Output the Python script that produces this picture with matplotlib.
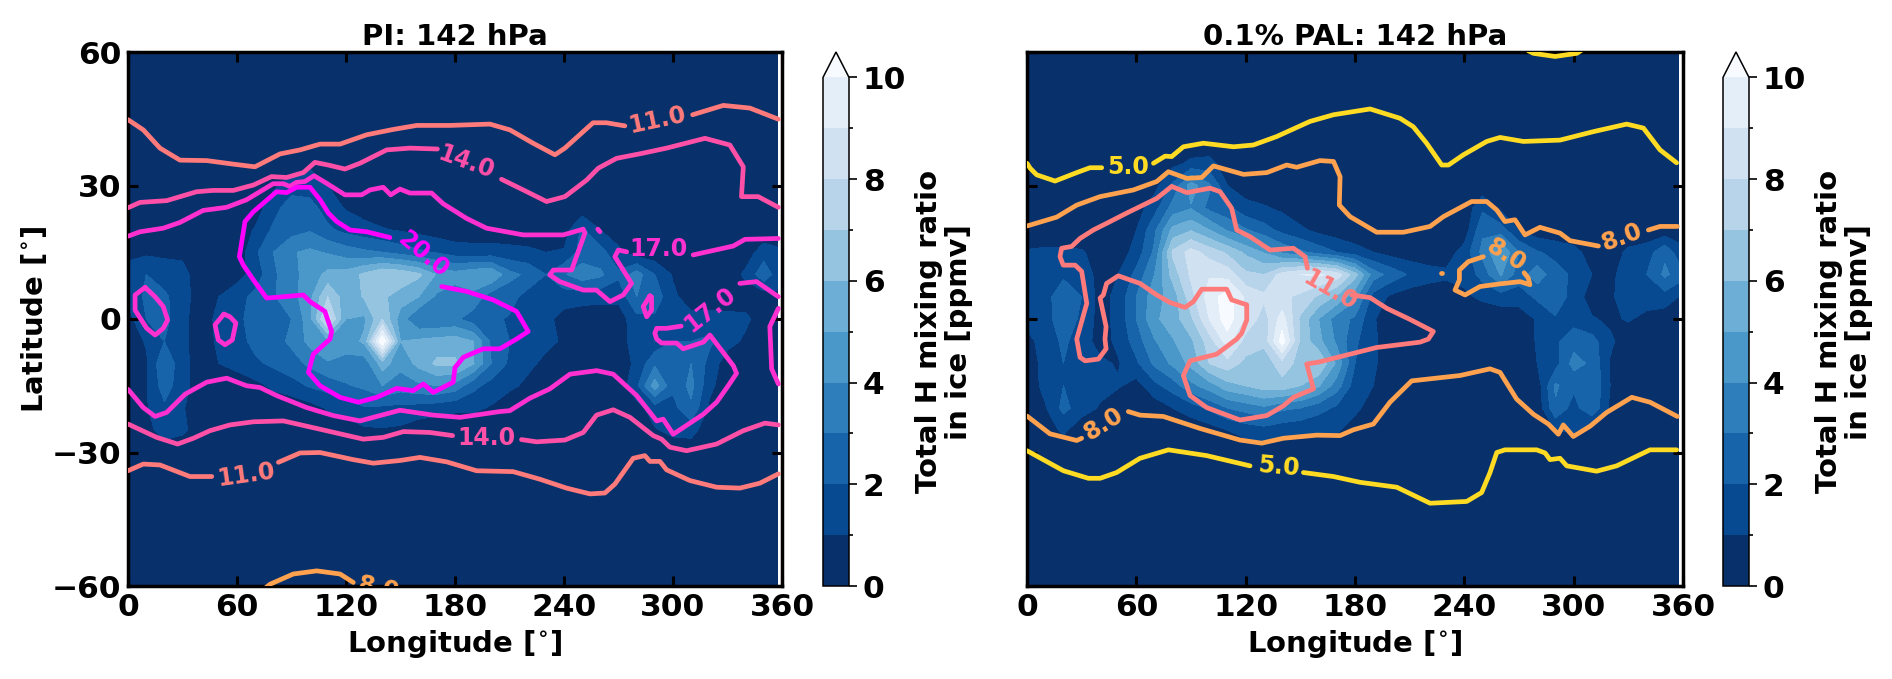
import numpy as np
import matplotlib
matplotlib.use("Agg")
import matplotlib.pyplot as plt

W, H = 1892, 679
# ---------------- data ----------------
lons = list(range(0, 360, 10)) + [357.5]
lats = [-60, -30, -25, -20, -15, -10, -5, 0, 5, 10, 15, 20, 25, 30, 35, 40, 60]
levels = list(range(0, 11))
calm = [.3] * 37

pi_ice = [
 calm,
 calm,
 [.3,.6,1.5,1.2,.5,.3,.3,.3,.3,.3, .3,.3,.4,.8,.9,.8,.4,.3,.3,.3, .3,.3,.3,.3,.3,.3,.3,.3,.3,.9, 1.3,1.4,.3,.3,.3,.3,.3],
 [.3,.9,1.8,1.1,.3,.3,.3,.3,.3,.3, .6,1.1,1.5,1.9,1.8,1.7,1.6,1.4,1.2,1.2, .9,.4,.3,.3,.3,.3,.3,.3,.6,1.5, 1.7,2.8,.8,.3,.3,.3,.3],
 [.3,.9,2.5,1.4,.4,.3,.3,.7,1.2,1.6, 2.1,2.4,2.9,3.2,4.0,3.5,3.8,4.0,3.6,2.3, 1.6,1.2,.8,.4,.3,.3,.3,.3,1.8,4.5, 2.2,3.3,1.3,.3,.3,.3,.3],
 [.3,.8,2.9,1.3,.5,1.0,1.4,1.8,2.2,2.6, 3.2,3.9,3.7,3.4,5.5,4.3,5.3,6.2,6.2,5.1, 3.0,1.8,1.2,.8,.4,.4,.4,.5,1.2,2.8, 2.5,3.0,1.7,.4,.3,.3,.3],
 [.4,1.1,2.0,1.3,.4,1.2,1.6,2.3,2.6,3.2, 4.3,4.8,4.4,5.2,11,5.0,5.2,5.4,5.5,5.0, 2.8,2.0,1.4,1.2,.9,.4,.4,.4,1.6,1.3, 2.0,2.0,2.2,1.4,.8,.3,.3],
 [.6,2.0,2.3,1.3,.4,1.3,1.7,2.5,2.4,3.0, 4.6,8.5,5.0,4.8,7.0,4.5,3.0,3.0,3.2,2.5, 2.2,1.9,1.3,1.3,.6,.4,.4,.4,1.7,1.8, 1.5,1.3,1.4,1.3,1.2,.5,.4],
 [1.2,2.2,2.2,1.4,.5,1.0,1.6,2.3,2.9,3.6, 4.7,7.0,5.4,6.1,6.2,5.5,5.0,3.8,3.5,3.7, 2.4,2.4,1.6,1.1,1.5,1.4,1.3,1.3,3.0,2.6, 1.2,.5,.4,.4,.5,.4,.8],
 [1.3,2.0,1.5,1.3,.5,.4,.6,1.4,2.8,3.7, 4.4,5.3,5.4,6.2,7.0,6.8,6.2,4.9,4.4,4.8, 5.0,3.3,2.8,2.0,2.9,3.6,3.2,2.2,3.5,2.0, .9,.4,.4,.4,1.2,2.7,1.5],
 [.8,.8,.8,.8,.4,.3,.3,1.8,3.0,3.9, 4.2,3.9,3.5,3.2,3.0,2.6,2.2,1.9,1.5,1.4, 1.4,1.3,1.2,1.0,1.1,2.4,2.4,1.2,.4,.3, .3,.3,.3,.3,.5,1.5,1.2],
 [.3,.3,.3,.3,.3,.3,.4,1.1,2.2,2.6, 2.9,2.2,1.7,1.4,1.1,.9,.7,.5,.4,.4, .4,.4,.4,.4,.5,2.2,1.0,.5,.3,.3, .3,.3,.3,.3,.3,.3,.3],
 [.3,.3,.3,.3,.3,.3,.3,.5,1.6,2.6, 2.4,1.5,.9,.5,.3,.3,.3,.3,.3,.3, .3,.3,.3,.3,.3,.3,.3,.3,.3,.3, .3,.3,.3,.3,.3,.3,.3],
 [.3,.3,.3,.3,.3,.3,.3,.3,.8,1.5, 1.5,1.0,.5,.3,.3,.3,.3,.3,.3,.3, .3,.3,.3,.3,.3,.3,.3,.3,.3,.3, .3,.3,.3,.3,.3,.3,.3],
 [.3,.3,.3,.3,.3,.3,.3,.3,.3,.5, .8,.4,.3,.3,.3,.3,.3,.3,.3,.3, .3,.3,.3,.3,.3,.3,.3,.3,.3,.3, .3,.3,.3,.3,.3,.3,.3],
 calm,
 calm,
]

pal_ice = [
 calm,
 calm,
 [.3,.5,1.2,.3,.3,.3,.3,.3,.3,.3, .5,1.0,1.4,1.6,1.4,1.2,1.1,1.1,.6,.3, .3,.3,.3,.3,.3,.3,.3,.3,.3,1.0, 1.1,.5,.3,.3,.3,.3,.3],
 [.3,.9,2.3,1.5,.9,.3,.3,.4,1.0,1.5, 2.2,3.0,3.4,3.8,3.2,3.0,2.4,1.8,1.2,.6, .3,.3,.3,.3,.3,.3,.3,.3,.3,2.8, 1.6,2.8,.8,.3,.3,.3,.3],
 [.4,1.3,2.0,1.6,1.3,1.1,.6,1.7,2.5,3.7, 4.5,5.6,6.0,6.5,6.6,6.0,5.1,3.5,1.5,1.0, .4,.3,.3,.3,.3,.3,.3,.3,.4,3.2, 2.2,3.0,1.0,.3,.3,.3,.3],
 [.5,1.3,2.0,1.6,1.2,.9,1.8,3.2,4.2,5.3, 7.0,7.6,6.7,6.3,7.6,6.6,7.0,4.8,2.0,1.2, .3,.3,.3,.3,.3,.3,.3,.3,1.0,1.6, 3.4,2.8,.9,.3,.3,.3,.3],
 [.7,1.4,2.2,1.5,.6,1.2,2.5,3.9,4.9,5.8, 7.5,9.5,7.6,7.3,10.5,6.8,5.3,3.8,2.2,1.2, .4,.3,.3,.3,.3,.3,.3,.3,1.1,1.8, 2.6,2.4,1.2,.4,.3,.3,.3],
 [1.3,1.6,2.6,1.8,.6,1.3,3.0,4.8,5.5,6.8, 9.0,10.6,8.8,7.5,9.5,6.8,5.0,3.5,2.8,1.1, .4,.3,.3,.3,.3,.3,.3,.4,1.1,1.9, 1.6,1.1,.8,1.1,.7,.4,.3],
 [1.5,1.6,2.7,2.0,.6,1.3,3.0,4.6,5.4,7.6, 9.5,10.5,8.8,8.2,8.2,7.8,6.8,5.8,4.3,1.6, .8,.4,.4,.4,.8,1.2,1.5,1.5,2.2,2.6, 1.6,.5,.9,1.3,1.5,1.6,1.0],
 [1.6,1.5,1.8,1.8,.5,1.0,2.3,4.0,6.4,8.2, 8.9,8.6,7.2,7.0,8.4,9.0,9.2,8.6,6.4,3.5, 2.6,1.9,1.4,1.2,1.3,2.4,4.1,2.5,3.6,2.4, 1.8,1.0,.8,1.4,2.0,3.2,2.6],
 [1.1,1.2,1.2,1.1,.6,.4,1.4,3.2,7.2,8.4, 7.6,6.8,5.8,4.9,3.8,3.2,2.6,2.0,1.4,1.0, .6,.4,.4,.5,1.4,3.3,5.0,3.0,2.1,1.7, 1.3,.6,.5,1.2,1.5,2.8,1.5],
 [.3,.3,.3,.3,.3,.3,1.0,2.8,5.3,5.9, 5.0,3.9,3.1,2.4,1.7,1.2,.7,.4,.3,.3, .3,.3,.3,.3,.4,2.8,2.5,1.0,.4,.3, .3,.3,.3,.3,.3,.3,.3],
 [.3,.3,.3,.3,.3,.3,.5,1.6,3.4,3.9, 2.7,2.2,1.3,1.1,.8,.3,.3,.3,.3,.3, .3,.3,.3,.3,.3,1.8,.7,.3,.3,.3, .3,.3,.3,.3,.3,.3,.3],
 [.3,.3,.3,.3,.3,.3,.3,.6,2.2,4.5, 3.2,1.0,.5,.3,.3,.3,.3,.3,.3,.3, .3,.3,.3,.3,.3,.3,.3,.3,.3,.3, .3,.3,.3,.3,.3,.3,.3],
 [.3,.3,.3,.3,.3,.3,.3,.3,.7,1.2, 1.3,.5,.3,.3,.3,.3,.3,.3,.3,.3, .3,.3,.3,.3,.3,.3,.3,.3,.3,.3, .3,.3,.3,.3,.3,.3,.3],
 calm,
 calm,
]

# temperature-type contour paths (lon, lat)
pi_11_n_a = [(0,44.8),(8.4,42.5),(17.6,38.4),(28.6,35.7),(43.3,35.6),(58,34.8),(69.9,34.2),(83.7,37.1),(94.7,38),(105.7,39.3),(116.7,39.3),(131.4,41.4),(146,42.6),(158.9,43.5),(177.2,43.5),(199.2,43.8),(210.2,42.5),(223,39.5),(235,36.9),(240.5,38.4),(256,44.1),(263.4,44.1),(273.5,43.4)]
pi_11_n_b = [(310.8,45.9),(327.7,48),(342.3,47.4),(358,44.9)]
pi_14_n_a = [(0,25),(6.6,26.2),(21.3,26.6),(37.8,28.6),(46.9,28.9),(58,28.9),(69,30.1),(79,32),(87.3,31.8),(96.5,32.9),(102.9,35.2),(110.2,34.6),(119.4,33.7),(127.7,35),(142.4,38),(155.2,38.4),(170.3,38.2)]
pi_14_n_b = [(205.6,31.4),(217.6,29),(230.4,26.4),(240.5,27.5),(252.4,31.2),(258.9,33.9),(268.9,36.1),(282.7,37.2),(296.5,38.4),(317.6,40.6),(331.3,39.1),(338.7,34.2),(337.7,27.5),(346.9,27.5),(358,25.1)]
pi_17_n_a = [(0,18.6),(6.6,19.6),(19.4,20.4),(28.6,21.7),(41.4,24.4),(54.3,25.1),(65.3,26.8),(79.9,30.4),(85.4,30.4),(89.1,29.8),(92.7,30.7),(97.4,30.9),(102.4,32.2),(109.3,30.5),(119.4,27.9),(128.6,27.9),(133.2,29),(140.5,29.6),(144.6,27.9),(149.7,29.2),(155.2,28.3),(167.1,28.3),(173.5,25.9),(186.4,22.6),(197.4,20.4),(217.6,18.9),(239.6,18.9),(250.6,20.2),(251.5,19.3),(244.2,11),(234.1,11),(232.2,9.9),(237.7,8.4),(250.6,6.5),(257.9,6.5),(265.3,3.9),(272.6,5.4),(277.2,8),(268,14),(269.9,15.5),(274.5,15.1)]
pi_17_n_b = [(311.1,14.4),(333.2,16.4),(339.6,17.9),(358,18.1)]
pi_17_dot = [(258.6,20.2),(259.8,19.6)]
pi_17_s_a = [(0,-15.8),(8.4,-19.9),(14.9,-21.9),(21.3,-21),(31.4,-16.9),(43.3,-14.2),(54.3,-13.3),(65.3,-15),(72.7,-15.4),(81.8,-17.2),(98.3,-19.9),(113,-21.7),(127.7,-22.9),(149.7,-20.5),(168,-21.6),(182.8,-22.1),(204.7,-20.8),(210.2,-20.6),(221.2,-17.8),(232.2,-15.7),(243.3,-12.4),(258,-11.6),(267.1,-12.4),(280,-17.2),(291,-22.9),(294.6,-22.5),(300.1,-25.9),(316.7,-21.4),(324,-18.7),(330.4,-15),(335,-12.2),(333.2,-10.5),(320.3,-3.6),(316.7,-5.2),(305.6,-6.7),(302,-5.4),(293.7,-5.4),(291,-4.5),(290,-3.2),(291,-2.1),(296.5,-2.1),(304.5,-1.6)]
pi_17_s_b = [(336.8,8),(346,8.4),(358,5)]
pi_17_edge = [(358,2.4),(353.3,-1.7),(354.3,-11.2),(358,-14.6)]
pi_17_blob1 = [(9.4,7.1),(3.9,5.4),(3.9,2),(10.3,-2.1),(14.9,-3.6),(19.4,-2.1),(21.8,-.2),(19.4,2.8),(14.9,5),(9.4,7.1)]
pi_17_blob2 = [(52.8,1.1),(47.9,-1.3),(49.7,-4.7),(53.4,-5.8),(57.4,-4.7),(59.4,-.9),(56.1,.5),(52.8,1.1)]
pi_17_blob3 = [(287.3,5.2),(283.6,2.8),(285.5,.5),(288.2,2),(288.2,5),(287.3,5.2)]
pi_20 = [(172.7,7.3),(186.4,6.2),(201,4.3),(213.9,1.7),(220.3,-2.8),(213.9,-4.5),(204.7,-6.7),(195.5,-6.7),(184.6,-8.6),(180,-10.9),(179,-14.2),(168,-16.5),(162.6,-14.6),(157,-16.1),(147.9,-15.6),(136.9,-17.6),(126.8,-18.7),(116.7,-17.6),(105.7,-15),(99.3,-12),(102,-7.9),(111.2,-4.5),(112.1,-2.8),(108.4,1.7),(100.2,3.9),(96.5,5.4),(85.5,5),(76.3,4.7),(69,8.8),(63.5,12.1),(61.3,14),(64.4,21.9),(69,24.1),(81.8,28.6),(87.3,28.4),(92.8,29.6),(100.2,29.6),(105.7,26.8),(110.3,23.8),(114.9,21.9),(122.2,20),(131.4,19.6),(144.2,18.3)]
pi_14_s_a = [(0,-23.6),(15.8,-26.6),(27.3,-28.1),(36,-26.8),(45.1,-25.1),(56.1,-23.8),(69,-23.1),(85.5,-22.9),(103.9,-24.6),(129.5,-27),(140.6,-26.6),(151.6,-25.3),(166.2,-25.5),(178.7,-26.2)]
pi_14_s_b = [(216.6,-27.1),(224.9,-27.6),(240.5,-27.2),(250.6,-25.5),(257.9,-21.6),(267.1,-20.4),(276.3,-22.1),(289.1,-26.2),(293.7,-27),(298.3,-28.8),(307.5,-29.6),(324,-28.1),(338.7,-25.1),(350.6,-23.4),(358,-23.8)]
pi_11_s_a = [(0,-34.1),(8.4,-32.6),(17.6,-32.8),(34.1,-35.4),(46.1,-35.4)]
pi_11_s_b = [(82.8,-32.2),(94.7,-30.1),(105.7,-30),(124,-31.6),(135,-32.4),(149.7,-31.8),(160.7,-31.1),(175.4,-32.1),(191.9,-34.1),(212,-34.3),(226.7,-36),(241.4,-38),(254.3,-39.3),(262.5,-39.1),(268,-37.1),(278.1,-31.3),(284.5,-30.7),(287.3,-32),(292.8,-32),(296.5,-33.9),(309.3,-36.3),(324,-37.8),(336.8,-38),(347.8,-36.9),(358,-34.8)]
pi_8_s = [(74,-61),(78.2,-59.6),(91,-57.3),(103.9,-56.6),(116.7,-57.3),(124,-59.2)]

pal_5_n_a = [(0,35),(1.7,33.9),(5.3,32.4),(15.4,31),(27.3,32.9),(34.6,34),(41,34)]
pal_5_n_b = [(69.4,35),(75.8,36.6),(79.4,36.5),(85.8,38.7),(96.8,39.5),(113.3,38.7),(124.2,39.1),(137,41),(155.3,44.4),(168.2,45.9),(188.3,47.2),(204.7,45.1),(212,43.2),(219.3,39.5),(227.6,34.6),(231.3,34.6),(239.5,36.9),(252.3,39.9),(259.6,40.8),(272.4,39.9),(292.5,40.2),(310.8,42.1),(329.1,43.8),(338.3,42.9),(347.4,38),(356.5,35.1)]
pal_5_top = [(275,60.3),(277.9,59.7),(289.8,59),(301.7,59.7),(304,60.3)]
pal_5_s_a = [(0,-29.6),(20,-34.1),(33.7,-35.8),(40.1,-35.8),(49.2,-34.5),(62,-31.3),(77.6,-29.4),(98.6,-30.7),(122.4,-33)]
pal_5_s_b = [(151.7,-34.5),(168.2,-35.4),(182.8,-36.7),(202.9,-37.8),(221.2,-41.4),(241.3,-41),(249.5,-39),(254.1,-34.5),(257.8,-30),(262.3,-29.4),(279.7,-29.4),(284.3,-30.1),(287,-31.6),(292.5,-31.3),(296.2,-33),(312.6,-34.2),(323.6,-33),(341.9,-29.4),(356.5,-29.4)]
pal_8_n_a = [(0,20.9),(16.3,22.9),(27.3,25.6),(40.1,27.5),(58.4,29),(71.2,30.9),(77.6,33.1),(87.7,31.6),(95.9,31.8),(102.3,34.4),(118.8,32.5),(131.6,32.9),(142.5,34.6),(148,34.1),(160.8,35.6),(168.2,35.4),(171.8,32),(171.4,25.6),(177.3,23),(191.9,19.5),(206.6,19.5),(221.2,20.8),(228.5,23),(244,26.4),(252.3,26.4),(257.8,24.5),(262.3,21.9),(267.8,22.3),(273.3,18.9),(281.5,20.6),(292.5,19.3),(298,17.6),(313.6,16.4)]
pal_8_n_b = [(341,20),(347.4,20.8),(356.9,20.8)]
pal_8_blob = [(250.4,14),(242.2,12.9),(237.3,11),(237.3,8.8),(234.9,6.5),(240.4,5.4),(248.6,7.3),(259.6,7.9),(270.6,8.4),(276,7.7),(275.1,9.2),(272.8,10.4)]
pal_8_dot = [(227.2,10.4),(227.6,10.4)]
pal_8_s_a = [(0,-21.8),(12.6,-25.8),(27.3,-27.3),(30,-26.8)]
pal_8_s_b = [(55.6,-20.8),(62,-21.6),(74.8,-21.9),(95,-24.6),(116.9,-27.2),(128.8,-27.9),(140.7,-26.8),(159,-26.1),(171.8,-26.2),(179.1,-24.9),(190.1,-23.6),(199.2,-18.7),(211.1,-13.9),(237.6,-12.7),(254.1,-11.2),(259.6,-12),(268.7,-18),(277.9,-21.4),(286.1,-23.6),(291.6,-25.9),(294.3,-23.8),(299.8,-26.4),(309,-24.1),(318.1,-21),(331.9,-17.6),(341.9,-18.7),(356.9,-21.9)]
pal_11 = [(153.9,11.4),(152.6,14),(146.2,15.9),(133.4,15.5),(122.4,18.5),(115.1,20),(112.3,24.9),(106,28.6),(100.5,29.4),(87.7,28.4),(79.4,29.8),(71.2,27.1),(54.7,23.8),(43.7,21.5),(36.4,20),(29.1,18.1),(24.5,16.3),(19,15.9),(18.1,14),(19.9,12.1),(26.4,12.1),(30,10.7),(32.8,3.5),(27.3,-4.5),(29.1,-8.6),(31.9,-9.4),(39.2,-9),(43.4,-6.7),(42.8,-4.5),(43.4,-1.7),(40.1,4.7),(41.9,5.4),(43.7,8),(50.1,9.7),(62,8),(71.2,5.4),(78.5,3.7),(86.7,2.6),(91.3,3.9),(95.9,6.7),(109.6,6.7),(112.3,4.3),(120.6,3.2),(120.6,-.2),(117.8,-3.2),(115.1,-4.5),(104.1,-7.9),(89.5,-9.4),(85.8,-12.7),(89.5,-17.2),(98.6,-19.9),(116.9,-22.7),(131.6,-21.7),(140.7,-19.5),(146.2,-17.6),(157.2,-15.7),(153.5,-10.1),(159.9,-9.7),(177.3,-7.9),(191.9,-6.4),(215.7,-5.2),(220.3,-4.5),(223,-2.8),(210.2,-.1),(197.4,2.4),(188.3,4.8),(178.2,5.4)]

c5, c8, c11, c14, c17, c20 = "#ffdc23", "#ffa24f", "#ff7b7b", "#ff50a8", "#ff30d0", "#ff00ff"

pi_paths = [(pi_11_n_a,c11),(pi_11_n_b,c11),(pi_11_s_a,c11),(pi_11_s_b,c11),(pi_14_n_a,c14),(pi_14_n_b,c14),(pi_14_s_a,c14),(pi_14_s_b,c14),
            (pi_17_n_a,c17),(pi_17_n_b,c17),(pi_17_dot,c17),(pi_17_s_a,c17),(pi_17_s_b,c17),(pi_17_edge,c17),(pi_17_blob1,c17),(pi_17_blob2,c17),(pi_17_blob3,c17),(pi_20,c20),(pi_8_s,c8)]
pal_paths = [(pal_5_n_a,c5),(pal_5_n_b,c5),(pal_5_top,c5),(pal_5_s_a,c5),(pal_5_s_b,c5),(pal_8_n_a,c8),(pal_8_n_b,c8),(pal_8_blob,c8),(pal_8_dot,c8),(pal_8_s_a,c8),(pal_8_s_b,c8),(pal_11,c11)]

pi_labels = [("11.0",291.5,44.6,12,c11),("14.0",186,35.3,-20,c14),("20.0",162.2,14.6,-40,c20),("17.0",292,15.8,0,c17),("17.0",320.3,2.2,38,c17),
             ("14.0",197.4,-26.7,0,c14),("11.0",65,-35,8,c11),("8.0",137.8,-60.6,-12,c8)]
pal_labels = [("5.0",55.6,34.1,0,c5),("11.0",166.2,6.5,-30,c11),("8.0",262.9,14.4,-32,c8),("8.0",326.4,18.4,20,c8),("8.0",41.9,-23.5,32,c8),("5.0",138,-33.3,-5,c5)]

titles = ["PI: 142 hPa", "0.1% PAL: 142 hPa"]
xticks = [0, 60, 120, 180, 240, 300, 360]
yticks = [-60, -30, 0, 30, 60]
cb_ticks = [0, 2, 4, 6, 8, 10]
cb_minor = [1, 3, 5, 7, 9]
cb_label = "Total H mixing ratio\nin ice [ppmv]"

# ---------------- drawing ----------------
plt.rcParams["font.family"] = "DejaVu Sans"
plt.rcParams["font.weight"] = "bold"
plt.rcParams["axes.labelweight"] = "bold"
plt.rcParams["mathtext.default"] = "regular"
fig = plt.figure(figsize=(W / 100, H / 100), dpi=100)
band_colors = [plt.cm.Blues_r(i / 10) for i in range(11)]

def rect(x0, y0, x1, y1):
    return [x0 / W, 1 - y1 / H, (x1 - x0) / W, (y1 - y0) / H]

panels = [
    (rect(128, 52, 782, 586), rect(823, 52, 849, 586), pi_ice, pi_paths, pi_labels),
    (rect(1027, 52, 1683, 586), rect(1723, 52, 1749, 586), pal_ice, pal_paths, pal_labels),
]
for i, (r, cr, field, paths, labels) in enumerate(panels):
    ax = fig.add_axes(r)
    cf = ax.contourf(lons, lats, np.array(field), levels=levels, colors=band_colors, extend="max")
    for path, col in paths:
        xs, ys = zip(*path)
        ax.plot(xs, ys, color=col, lw=3.4, solid_capstyle="round", solid_joinstyle="round", zorder=3)
    for txt, x, y, rot, col in labels:
        ax.text(x, y, txt, color=col, fontsize=17, fontweight="bold", rotation=rot,
                rotation_mode="anchor", ha="center", va="center", clip_on=True, zorder=4)
    ax.set_xlim(0, 360)
    ax.set_ylim(-60, 60)
    ax.set_xticks(xticks)
    ax.set_yticks(yticks)
    ax.tick_params(direction="in", length=7.5, width=2.2, top=True, right=True, labelsize=22.5, pad=5)
    if i == 1:
        ax.set_yticklabels([])
    else:
        ax.set_ylabel("Latitude [$^{\\circ}$]", fontsize=21, fontweight="bold", labelpad=2)
    ax.set_xlabel("Longitude [$^{\\circ}$]", fontsize=21, fontweight="bold", labelpad=4)
    ax.set_title(titles[i], fontsize=21, fontweight="bold", pad=5)
    for s in ax.spines.values():
        s.set_linewidth(2.5)
    cax = fig.add_axes(cr)
    cb = fig.colorbar(cf, cax=cax, extend="max")
    cb.set_ticks(cb_ticks)
    cb.set_ticks(cb_minor, minor=True)
    cb.ax.tick_params(which="major", length=6, width=1.2, labelsize=22.5, pad=4)
    cb.ax.tick_params(which="minor", length=3, width=1.2)
    cb.outline.set_linewidth(1.1)
    cb.set_label(cb_label, fontsize=21, fontweight="bold", labelpad=6, linespacing=1.1)

fig.savefig("out.png", dpi=100, facecolor="white")
